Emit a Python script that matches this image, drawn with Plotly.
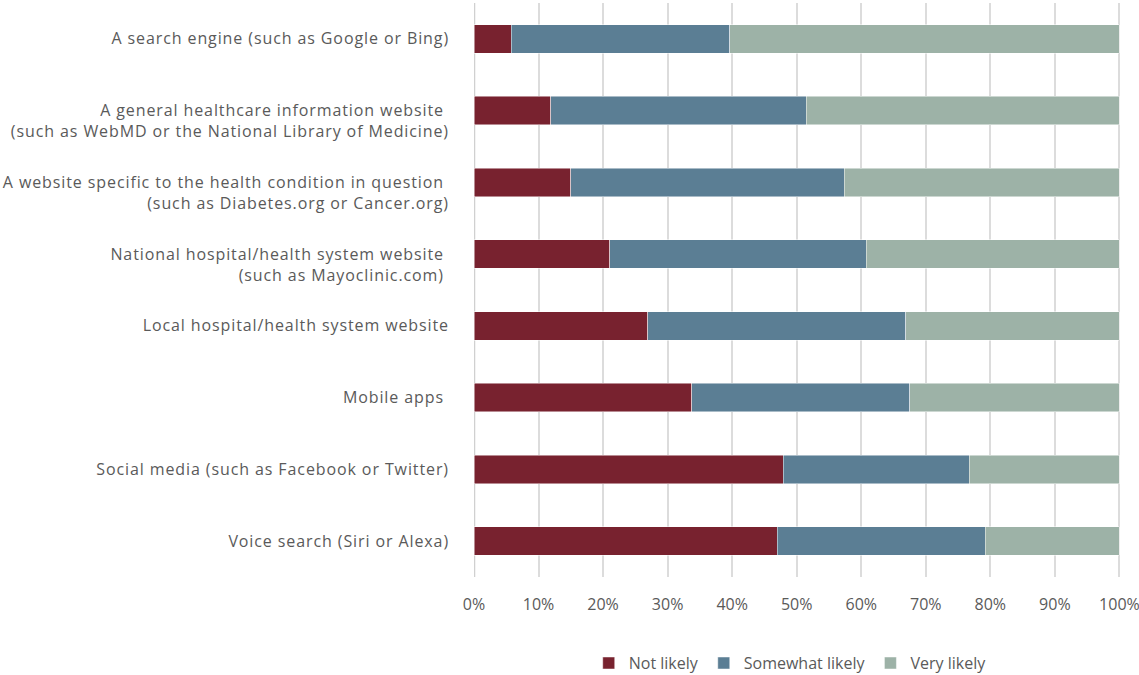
import plotly.graph_objects as go

# Sources of health information, top to bottom
categories = [
    "A search engine (such as Google or Bing)",
    "A general healthcare information website <br>(such as WebMD or the National Library of Medicine)",
    "A website specific to the health condition in question <br>(such as Diabetes.org or Cancer.org)",
    "National hospital/health system website <br>(such as Mayoclinic.com) ",
    "Local hospital/health system website",
    "Mobile apps ",
    "Social media (such as Facebook or Twitter)",
    "Voice search (Siri or Alexa)",
]

# Share of respondents (%) per likelihood level
not_likely = [5.8, 11.9, 15.0, 21.0, 26.9, 33.7, 47.9, 47.0]
somewhat_likely = [33.8, 39.6, 42.4, 39.8, 40.0, 33.8, 28.8, 32.2]
very_likely = [60.4, 48.5, 42.6, 39.2, 33.1, 32.5, 23.3, 20.8]

x_ticks = [0, 10, 20, 30, 40, 50, 60, 70, 80, 90, 100]
x_tick_labels = [f"{v}%" for v in x_ticks]

series = [
    ("Not likely", not_likely, "#78222f"),
    ("Somewhat likely", somewhat_likely, "#5b7e94"),
    ("Very likely", very_likely, "#9db2a7"),
]


def tracked(text, spacing):
    """Letter-spaced label; two-line labels hang from the bar centre."""
    lines = text.split("<br>")
    spans = [f'<span style="letter-spacing:{spacing}px">{ln}</span>' for ln in lines]
    if len(spans) > 1:
        # an empty leading line puts the first real line on the bar centre
        spans = [" "] + spans
    return "<br>".join(spans)


fig = go.Figure()
for name, values, color in series:
    fig.add_trace(go.Bar(
        name=name,
        y=categories,
        x=values,
        orientation="h",
        marker=dict(color=color, line=dict(color="rgba(255,255,255,0.6)", width=0.8)),
        width=0.4,
    ))

text_color = "#5a5a5a"
font_family = "Open Sans, sans-serif"

# x range runs a hair past 100 so the 100% gridline and label are kept
x_max = 100.4
plot_w = 645 * x_max / 100

fig.update_layout(
    barmode="stack",
    width=1139,
    height=675,
    margin=dict(l=474, r=1139 - 474 - plot_w, t=3, b=98, autoexpand=False),
    paper_bgcolor="white",
    plot_bgcolor="white",
    font=dict(family=font_family, size=16, color=text_color),
    xaxis=dict(
        range=[0, x_max],
        tickvals=x_ticks,
        ticktext=x_tick_labels,
        showgrid=True,
        gridcolor="#dcdcdc",
        gridwidth=1.5,
        zeroline=False,
        showline=False,
        ticks="",
        tickfont=dict(size=16, color=text_color),
        ticklabelstandoff=16,
        ticklabeloverflow="allow",
        automargin=False,
    ),
    yaxis=dict(
        autorange="reversed",
        tickmode="array",
        tickvals=categories,
        ticktext=[tracked(c, 0.9) for c in categories],
        showgrid=False,
        zeroline=False,
        showline=False,
        ticks="",
        tickfont=dict(size=16, color=text_color),
        ticklabelstandoff=24,
        automargin=False,
    ),
    legend=dict(
        orientation="h",
        x=0.488,
        xanchor="center",
        y=-0.15,
        yanchor="middle",
        font=dict(size=16, color=text_color),
        traceorder="normal",
    ),
    showlegend=True,
)

# Left edge of the axis drawn as a slightly stronger line
fig.add_shape(type="line", xref="x", yref="paper", x0=0, x1=0, y0=0, y1=1,
              line=dict(color="#d0d0d0", width=2.5), layer="below")

fig.write_html("out.html")
